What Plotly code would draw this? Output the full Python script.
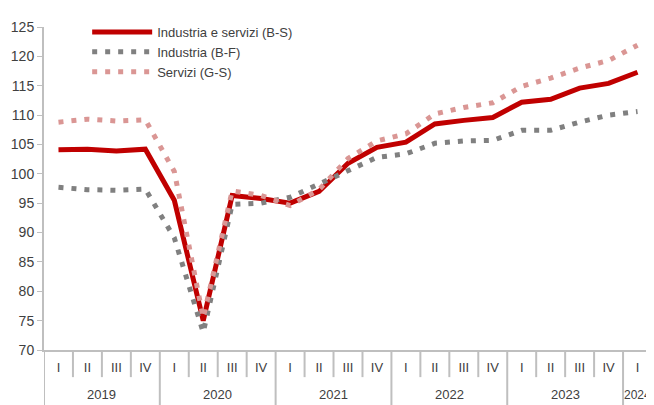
import plotly.graph_objects as go

years = ['2019'] * 4 + ['2020'] * 4 + ['2021'] * 4 + ['2022'] * 4 + ['2023'] * 4 + ['2024']
quarters = ['I', 'II', 'III', 'IV'] * 5 + ['I']

ind_serv = [104.1, 104.2, 103.9, 104.2,
            95.5, 75.0, 96.3, 95.8,
            95.0, 97.0, 101.8, 104.5,
            105.4, 108.5, 109.1, 109.6,
            112.2, 112.7, 114.6, 115.4,
            117.3]
industria = [97.7, 97.3, 97.2, 97.4,
             89.1, 73.0, 94.8, 95.0,
             96.0, 98.3, 100.5, 102.8,
             103.4, 105.2, 105.6, 105.7,
             107.4, 107.4, 108.8, 110.0,
             110.6]
servizi = [108.8, 109.3, 109.0, 109.2,
           100.4, 75.5, 97.1, 96.3,
           94.6, 97.3, 102.6, 105.6,
           106.8, 110.2, 111.3, 112.1,
           114.9, 116.3, 118.0, 119.3,
           121.9]

FONT = 'Liberation Sans Narrow, Arial Narrow, Liberation Sans, Arial'
AXIS_GREY = '#BFBFBF'
TEXT = '#404040'
idx = list(range(len(quarters)))

fig = go.Figure()
fig.add_trace(go.Scatter(x=idx, y=ind_serv, mode='lines', name='Industria e servizi (B-S)',
                         line=dict(color='#C00000', width=5)))
fig.add_trace(go.Scatter(x=idx, y=industria, mode='lines', name='Industria (B-F)',
                         line=dict(color='#808080', width=5, dash='5px,8px')))
fig.add_trace(go.Scatter(x=idx, y=servizi, mode='lines', name='Servizi (G-S)',
                         line=dict(color='#DA9694', width=5, dash='5px,8px')))

# separators between quarters (upper row) and between years (both rows)
q_low, y_low = -0.084, -0.19
for i in range(len(quarters) + 1):
    b = i - 0.5
    is_year_edge = i == 0 or i == len(quarters) or years[i] != years[i - 1]
    fig.add_shape(type='line', xref='x', yref='paper', x0=b, x1=b, y0=0,
                  y1=y_low if is_year_edge else q_low,
                  line=dict(color=AXIS_GREY, width=2))

# year labels centred under their quarters
for yr in dict.fromkeys(years):
    pos = [i for i, v in enumerate(years) if v == yr]
    fig.add_annotation(x=sum(pos) / len(pos), y=-0.138, xref='x', yref='paper',
                       text=yr, showarrow=False, yanchor='middle',
                       font=dict(size=13 if len(pos) > 1 else 12, color=TEXT, family=FONT))

fig.update_xaxes(range=[-0.5, len(quarters) - 0.5], tickvals=idx, ticktext=quarters,
                 showline=True, linecolor=AXIS_GREY, linewidth=2, ticks='',
                 ticklabelstandoff=4, showgrid=False, zeroline=False, automargin=False,
                 tickfont=dict(size=13, color=TEXT))
fig.update_yaxes(range=[70, 125], dtick=5, showline=True, linecolor=AXIS_GREY, linewidth=2,
                 ticks='outside', tickcolor=AXIS_GREY, ticklen=5, showgrid=False,
                 zeroline=False, automargin=False, tickfont=dict(size=14, color=TEXT))
fig.update_layout(
    width=654, height=405, template='plotly_white',
    margin=dict(l=36, r=10, t=9, b=63),
    font=dict(family=FONT, color=TEXT),
    showlegend=True,
    legend=dict(x=0.071, y=1.031, xanchor='left', yanchor='top', bgcolor='rgba(0,0,0,0)',
                font=dict(size=13, color=TEXT), tracegroupgap=0, itemwidth=60),
    plot_bgcolor='white', paper_bgcolor='white',
)
fig.write_html("out.html")
